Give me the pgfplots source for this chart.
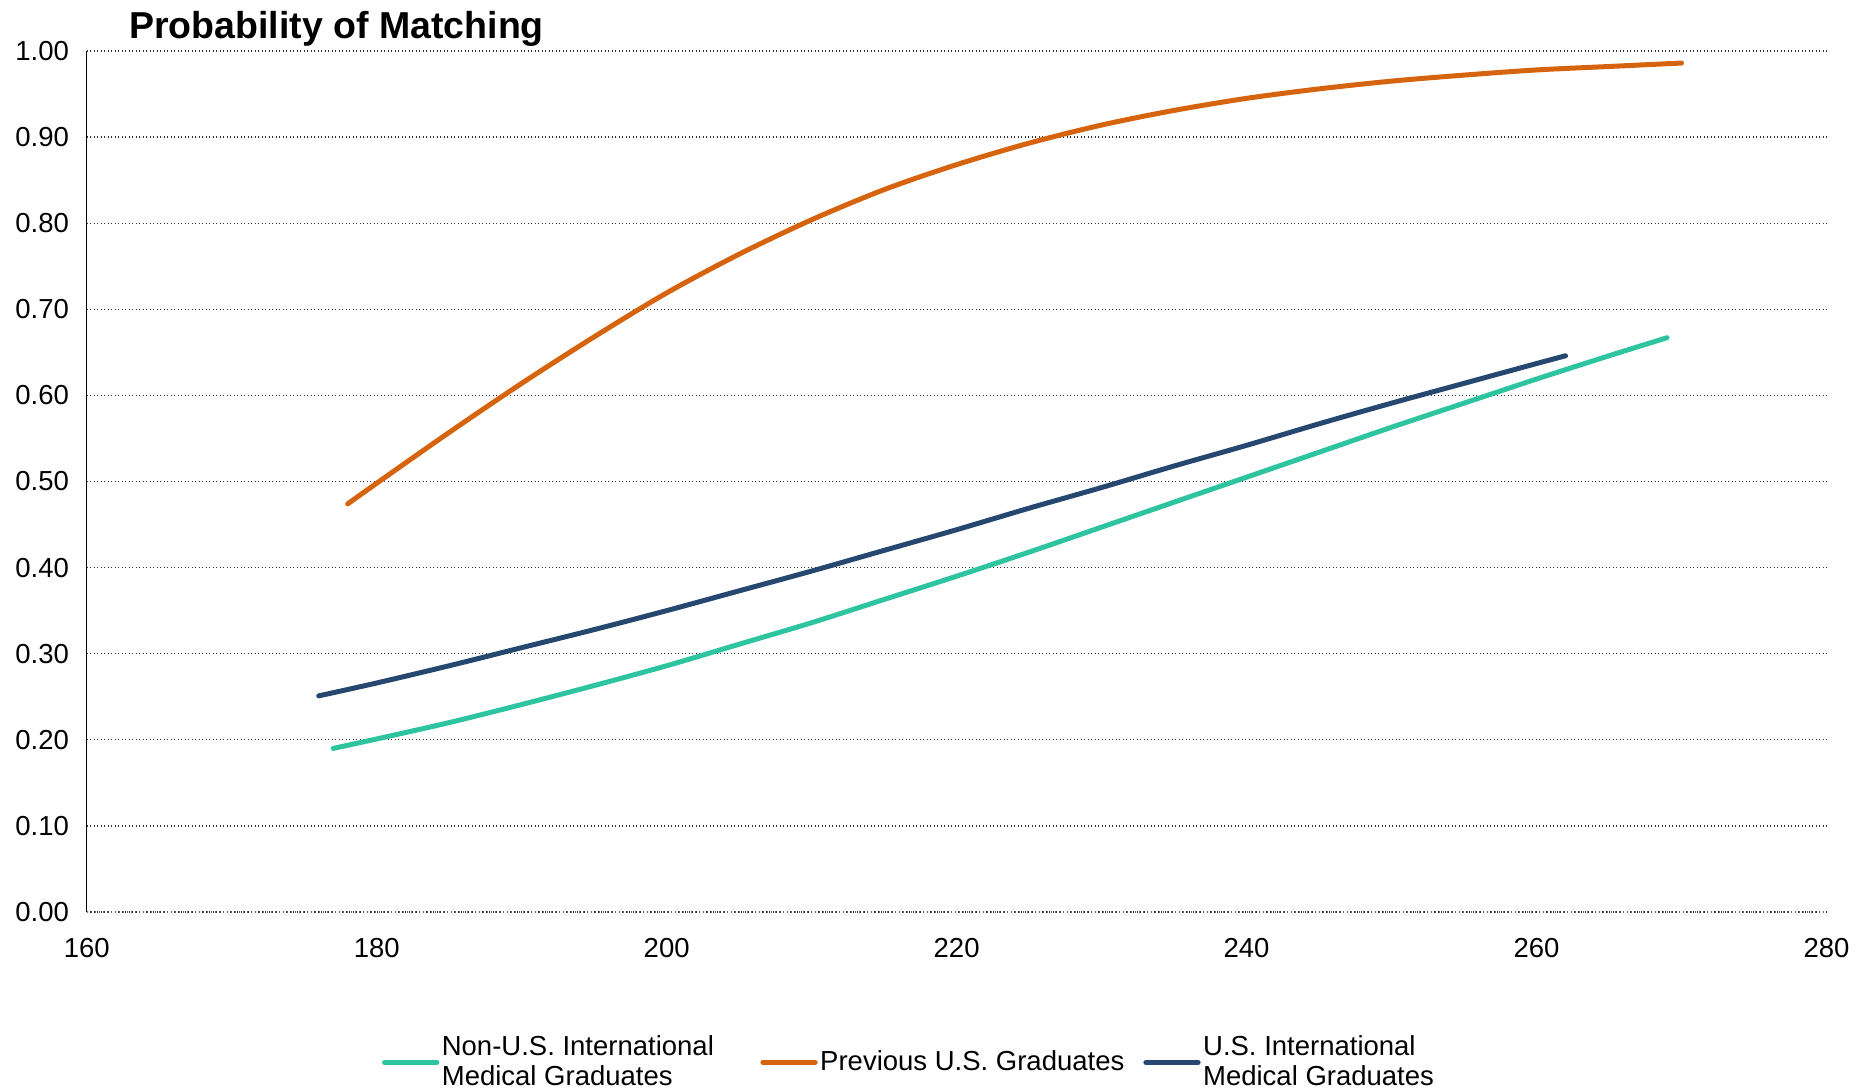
\documentclass[border=0pt]{standalone}
\usepackage{fontspec}
\setmainfont{Liberation Sans}
\usepackage{pgfplots}
\pgfplotsset{compat=1.18}

\definecolor{tealc}{RGB}{46,196,160}
\definecolor{orangec}{RGB}{214,100,15}
\definecolor{navyc}{RGB}{38,72,112}

\begin{document}
\begin{tikzpicture}
% page = reference frame; the axis box sits at the origin
\useasboundingbox (-34.7pt,-71.6pt) rectangle (710.1pt,364.8pt);
\begin{axis}[
    scale only axis,
    width=695.9pt, height=344.4pt,
    xmin=160, xmax=280, ymin=0, ymax=1,
    clip=false,
    xtick={160,180,...,280},
    ytick={0,0.1,...,1.0},
    /pgf/number format/assume math mode=true,
    yticklabel style={xshift=-3.6pt, /pgf/number format/fixed, /pgf/number format/fixed zerofill, /pgf/number format/precision=2},
    xticklabel style={yshift=-7.0pt, /pgf/number format/1000 sep={}},
    tick label style={font=\fontsize{11}{13}\selectfont},
    major tick length=0pt,
    ymajorgrids,
    grid style={densely dotted, black!80, line width=0.5pt},
    axis lines*=left,
    x axis line style={-, densely dotted, black!60, line width=0.6pt},
    y axis line style={-, black, line width=0.5pt},
    legend columns=3,
    legend cell align=left,
    legend style={draw=none, fill=none, at={(0.4735,-0.1748)}, anchor=center,
        font=\fontsize{11}{12}\selectfont, cells={align=left},
        /tikz/every odd column/.style={column sep=-1pt},
        /tikz/column 2/.style={column sep=16.6pt},
        /tikz/column 4/.style={column sep=5.6pt}},
    legend image code/.code={\draw[#1] (0cm,0cm) -- (0.735cm,0cm);},
    every axis plot/.append style={line width=2pt, line cap=round, no markers, smooth},
]
% Non-U.S. IMGs
\addplot[color=tealc] coordinates {
 (177,0.190) (180,0.201) (185,0.220) (190,0.241) (195,0.263) (200,0.286)
 (205,0.311) (210,0.336) (215,0.363) (220,0.390) (225,0.418) (230,0.447)
 (235,0.476) (240,0.505) (245,0.534) (250,0.563) (255,0.591) (260,0.619)
 (265,0.646) (269,0.667) };
\addlegendentry{Non-U.S. International\\Medical Graduates}
% Previous U.S. graduates
\addplot[color=orangec] coordinates {
 (178,0.474) (180,0.498) (185,0.557) (190,0.614) (195,0.668) (200,0.719)
 (205,0.764) (210,0.804) (215,0.839) (220,0.868) (225,0.893) (230,0.914)
 (235,0.931) (240,0.945) (245,0.956) (250,0.965) (255,0.972) (260,0.978)
 (265,0.982) (270,0.986) };
\addlegendentry{Previous U.S. Graduates}
% U.S. IMGs
\addplot[color=navyc] coordinates {
 (176,0.251) (180,0.266) (185,0.286) (190,0.307) (195,0.328) (200,0.350)
 (205,0.373) (210,0.396) (215,0.420) (220,0.444) (225,0.469) (230,0.493)
 (235,0.518) (240,0.542) (245,0.567) (250,0.591) (255,0.614) (260,0.637)
 (262,0.646) };
\addlegendentry{U.S. International\\Medical Graduates}
\node[anchor=base west, font=\bfseries\fontsize{15}{18}\selectfont, inner sep=0pt]
  at (rel axis cs:0,1) [xshift=16.8pt, yshift=5pt] {Probability of Matching};
\end{axis}
\end{tikzpicture}
\end{document}
